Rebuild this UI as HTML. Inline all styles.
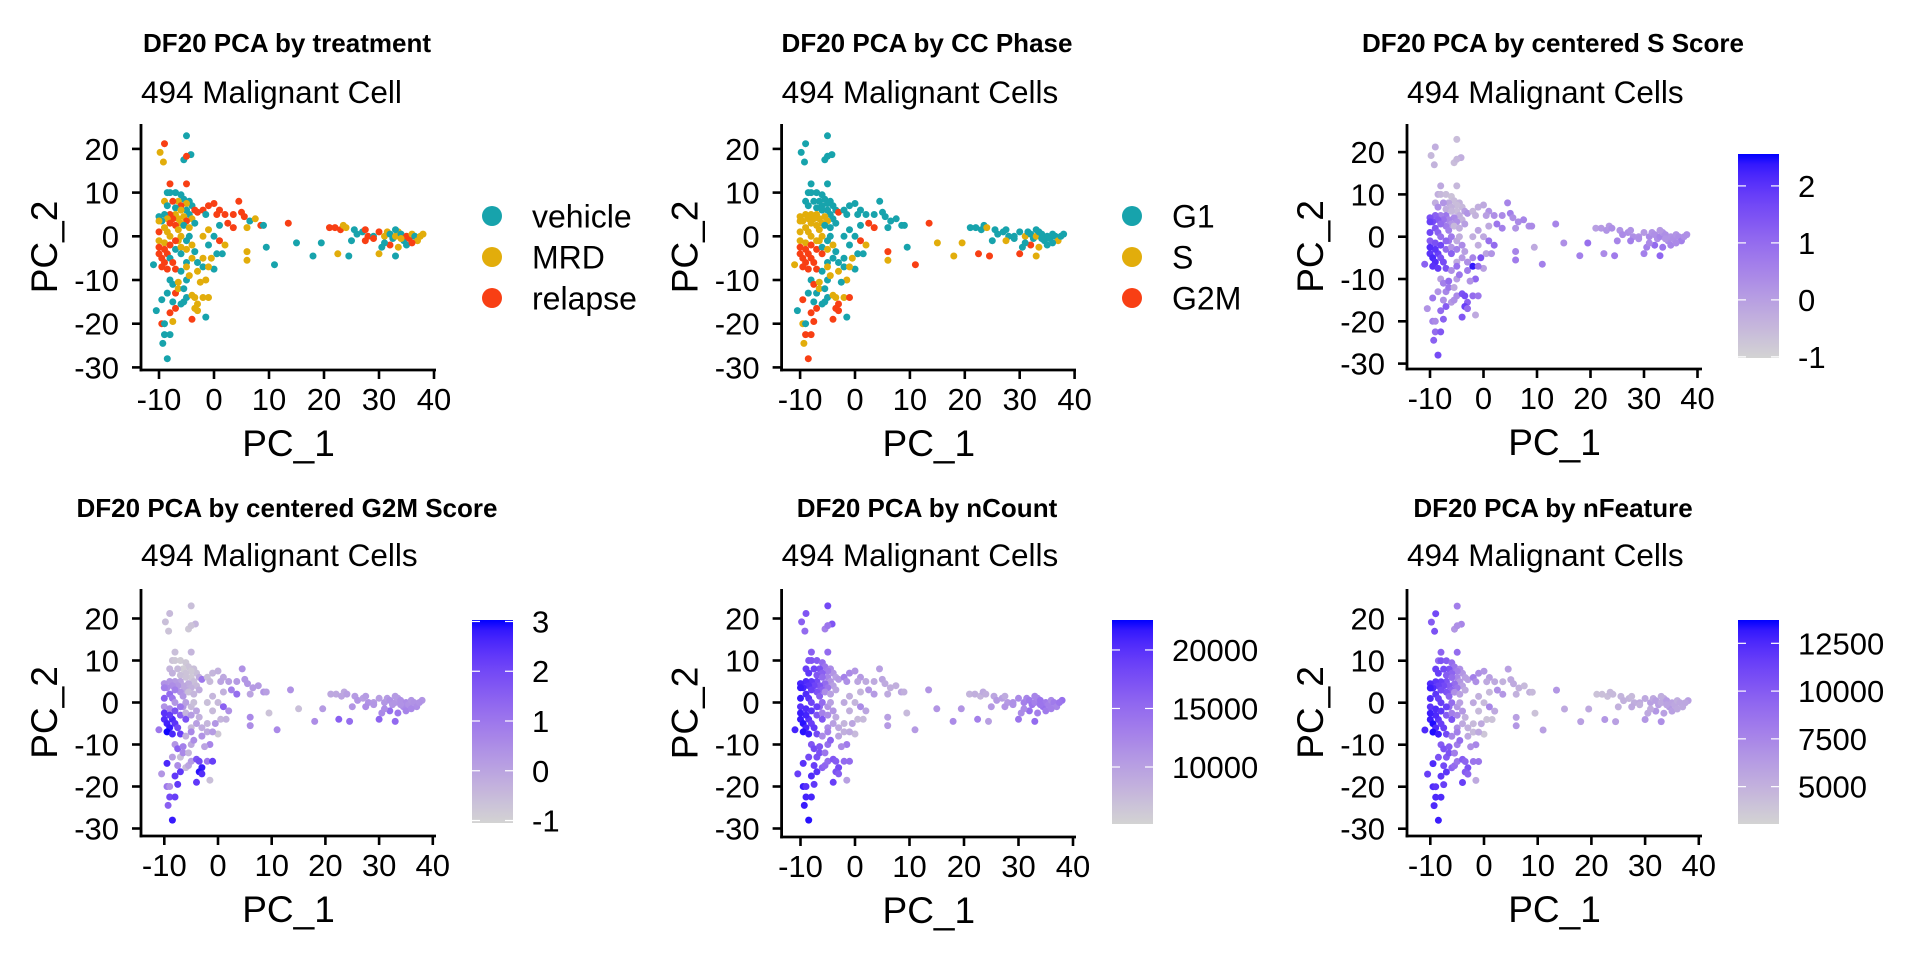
<!DOCTYPE html>
<html><head><meta charset="utf-8">
<style>
html,body{margin:0;padding:0;background:#fff;}
svg{display:block;font-family:"Liberation Sans",Arial,sans-serif;}
</style></head>
<body>
<svg id="fig" width="1920" height="960" viewBox="0 0 1920 960" xmlns="http://www.w3.org/2000/svg">
<defs id="defs"></defs>
</svg>
<script>
// ---------- data ----------
const treatmentCategories = ['vehicle','MRD','relapse'];
const treatmentColors = ['#17A3AC','#E2AD0B','#F83F14'];
const phaseCategories = ['G1','S','G2M'];
const phaseColors = ['#17A3AC','#E2AD0B','#F83F14'];
const xTicks = [-10,0,10,20,30,40];
const yTicks = [-30,-20,-10,0,10,20];
const sTicks = [-1,0,1,2];
const g2mTicks = [-1,0,1,2,3];
const nCountTicks = [10000,15000,20000];
const nFeatureTicks = [5000,7500,10000,12500];
const sDomain = [-1.02,2.56];
const g2mDomain = [-1.05,3.03];
const nCountDomain = [5130,22560];
const nFeatureDomain = [3045,13720];

const pc1 = [
 -9,-9.8,-9.2,-5,-4.2,-5.5,-5,-8,-5,-8.5,
 -8,-7,-6,-5.5,-4.5,-6.5,-7.5,-9,-4,-5, -6,-7,-8.5,-3.5,-5,-6,-7,-8,-9,-10, -4.5,-3,-5.5,-6.5,-7.5,-8.5,-9.5,-10,-4,-5, -6,-7,-8,-9,-10,-5.5,-4.5,-3.5,-6.5,-8.5,
 -11,-10,-9.5,-9,-8.5,-8,-9.5,-8.5,-7.5,-10, -9,-8,-7,-6.5,-6,-5,-4.5,-5,-4,-3.5, -4,-5,-6,-3,-2,-7,-6,-5,-3,-2, -9,-8,-7,-6,-10,
 -10.5,-9.5,-9.5,-9,-9,-9.3,-8.5,-8,-8,-7.5, -7.5,-8.5,-7,-8,-7.5,-6.5,-7,-6.5,-6,-5.5, -5,-5.5,-5,-4.5,-4,-3.5,-3,-3.5,-4,-3, -2,-1.5,-1,-1.5,-2.5,
 -2,-1,0,1,-1.5,0.5,2,3.5,4.5,5, 5.5,6.5,7.5,1,2.5,3.5,6,8.5,9,-1, -2,0,1,2,-1,0.5,-0.5,0,-1,1.5, 6,6,9.5,11,13.5,
 15,18,19.5,22.5,24.5,25,30,33,21,22, 23,23.5,24,25.5,26,27,27.5,28,27.5,29, 30,31,31.5,32,32.5,33,33.5,34,34.5,35, 35.5,36,36.5,37,38,30.5,32,33.5,35,34, 31,29,33,36,37.5
];
const pc2 = [
 21.2,19.2,17,23,18.7,17.5,18.3,12,12,10,
 10,10,9.5,8.5,8,8,8,8,7,7.5, 7,6.5,7,6,6,6,5,5,5,4.5, 5,5.5,4.5,4,4,4,3.5,3.5,4,3.5, 3,2.5,3,2,1,2.5,2,3,1.5,1,
 -6.5,-4,-5,-6,-4,-5,-7,-7.5,-6,-1, -1.5,-2,-3,-1,-2.5,-1,0,-3,-2,-3.5, -5,-6,-4,-6,-5,-7.5,-8,-7,-8,-7, -3,0,-1,0,-2.5,
 -17,-14.5,-20,-20,-22.5,-24.5,-28,-22.5,-17.5,-19.5, -15,-13,-13,-10,-11,-10.5,-16.5,-12,-15.5,-15, -14,-12,-10,-9,-13.5,-14,-15.5,-16.5,-19,-17, -14,-18.5,-14,-10,-10.5,
 6,7,7.5,6,5,5,5,5,8,5.5, 4.5,3.5,4,2.5,3,2,2,2.5,2.5,1.5, 0,0,-1,-2,-2,-4,-5,-7.5,-7,-4, -3.5,-5.5,-2.5,-6.5,3,
 -1.5,-4.5,-1.5,-4,-4.5,-1,-4,-4.5,2,2, 1.5,2.5,2,1.5,0.5,1,1.5,0,-1,0, 1,0,1,0.5,-0.5,0,1,0.5,-1,0, -0.5,0.5,0,-1,0.5,-2.5,-2,-2.5,-2,-0.5, -1.5,-0.5,1.5,-1.5,0
];
const treatment = [
 2,1,1,0,0,0,2,2,2,0,
 0,0,0,0,0,1,2,1,0,1, 2,0,0,2,0,1,1,2,0,0, 0,2,1,1,2,1,0,1,1,2, 1,2,2,1,2,0,1,0,1,1,
 0,2,2,2,2,0,2,2,2,1, 1,2,0,1,1,0,0,1,1,0, 1,0,0,0,1,2,0,1,1,0, 2,1,2,1,2,
 0,0,2,0,0,0,0,0,2,1, 0,0,2,0,0,1,2,1,0,0, 0,0,0,1,1,1,1,1,2,1, 1,0,1,1,1,
 2,2,2,2,0,2,2,2,2,2, 2,0,1,0,2,2,1,2,0,1, 1,0,2,1,0,0,1,0,1,0, 1,1,0,0,2,
 0,0,0,1,0,0,1,0,2,2, 2,1,1,0,0,0,2,2,2,0, 2,1,1,0,0,1,1,0,0,2, 2,1,0,1,1,0,2,1,0,1, 0,2,0,2,1
];
const phase = [
 0,0,0,0,0,0,0,0,0,0,
 0,0,0,0,0,0,0,0,0,0, 0,0,0,0,0,0,1,1,1,1, 0,2,1,1,1,1,1,1,0,1, 1,1,1,1,1,0,0,0,1,1,
 1,2,2,2,2,2,2,2,2,1, 1,2,2,1,0,0,0,1,1,0, 0,0,2,0,0,2,0,1,1,0, 2,1,1,1,2,
 0,2,1,0,2,1,2,2,2,2, 0,0,0,0,2,1,2,1,0,0, 0,0,0,1,1,1,2,2,2,2, 1,0,2,1,0,
 0,0,0,0,0,0,0,0,0,0, 0,0,0,0,2,2,0,0,0,0, 0,0,2,1,0,0,1,0,1,0, 2,1,0,2,2,
 1,1,1,2,2,0,2,1,0,0, 0,0,1,0,0,0,0,0,1,0, 0,1,0,0,0,1,0,0,0,0, 0,0,0,1,0,0,2,1,0,0, 0,0,0,0,0
];
const sScore = [
 -0.3,-0.5,-0.4,-0.6,-0.3,-0.6,-0.5,-0.2,-0.5,-0.3,
 -0.5,-0.6,-0.7,-0.6,-0.4,-0.2,0.2,-0.3,-0.5,-0.6, -0.4,-0.3,0.3,0.0,-0.6,-0.5,0.8,0.6,1.2,1.5, -0.3,0.2,0.4,0.5,0.9,1.3,1.6,1.8,-0.4,0.3, 0.2,0.7,1.0,1.4,1.7,-0.5,-0.3,0.0,0.6,1.2,
 1.2,2.0,2.2,2.1,1.8,1.5,2.0,1.9,1.6,1.3, 1.5,1.7,1.0,0.8,0.2,-0.2,-0.3,0.6,0.4,0.0, 0.1,-0.2,1.2,0.3,0.5,1.5,0.3,0.9,0.7,2.4, 2.0,0.9,1.1,0.7,2.1,
 0.2,0.8,0.6,0.4,1.0,1.2,1.6,1.4,1.0,1.2, 0.3,0.2,0.5,0.0,0.6,1.0,1.3,0.8,0.1,0.3, 0.4,-0.2,0.0,0.8,1.5,1.6,1.2,1.8,1.4,1.0, 1.0,-0.2,0.8,1.1,0.2,
 -0.5,-0.3,-0.2,0.2,-0.4,0.0,0.3,0.4,0.5,0.6, 0.3,0.4,0.5,-0.2,0.8,0.6,0.2,0.3,0.4,-0.1, -0.3,-0.2,0.9,1.0,-0.3,-0.1,1.5,0.0,0.9,0.2, 0.5,0.7,-0.2,0.6,0.5,
 0.3,0.6,0.9,0.4,0.7,0.5,0.6,1.1,0.0,0.1, 0.2,0.1,0.3,0.2,0.4,0.3,0.2,0.3,0.6,0.2, 0.1,0.4,0.2,0.3,0.3,0.5,0.2,0.3,0.4,0.2, 0.3,0.2,0.3,0.6,0.3,0.6,1.0,0.8,0.5,0.2, 0.4,0.3,0.1,0.4,0.3
];
const g2mScore = [
 -0.5,-0.6,-0.7,-0.6,-0.4,-0.8,-0.7,-0.6,-0.4,-0.7,
 -0.8,-0.9,-0.8,-0.7,-0.6,-0.9,-0.5,-0.4,-0.6,-0.8, -0.7,-0.6,-0.3,-0.2,-0.8,-0.7,0.0,0.2,0.3,0.4, -0.6,1.0,-0.2,-0.1,0.3,0.5,0.6,0.8,-0.5,-0.3, -0.1,0.4,0.8,1.2,1.5,-0.6,-0.4,-0.2,0.3,1.0,
 1.0,2.5,2.7,2.8,2.6,2.4,3.0,2.6,2.0,0.4, 0.6,1.8,1.5,0.3,-0.4,-0.5,-0.6,0.2,0.0,-0.3, 0.1,-0.5,1.8,-0.2,-0.4,2.2,-0.3,0.6,0.4,-0.1, 2.3,0.3,1.0,0.1,2.4,
 0.3,2.6,1.0,0.4,2.0,1.5,2.8,2.2,2.3,2.3, 0.5,0.1,-0.6,0.3,1.5,0.8,2.3,0.6,-0.5,0.0, 0.2,-0.4,-0.1,0.5,1.8,2.0,2.8,2.9,2.3,2.5, 1.0,-0.6,2.2,0.7,0.0,
 -0.6,-0.4,-0.3,-0.1,-0.5,0.0,0.1,0.2,0.4,0.3, 0.3,0.2,0.2,-0.3,0.8,1.2,0.0,0.3,0.1,-0.4, -0.6,-0.5,1.5,0.4,-0.5,-0.4,0.3,-0.8,0.2,-0.3, 0.6,0.5,-0.7,0.6,0.4,
 -0.6,0.5,0.2,1.5,1.2,0.3,1.4,1.3,-0.1,-0.1, 0.0,-0.1,0.1,0.2,0.3,0.1,0.2,0.4,0.5,0.2, 0.1,0.3,0.2,0.4,0.3,0.3,0.2,0.4,0.6,0.5, 0.4,0.3,0.4,0.5,0.3,0.6,1.2,1.0,0.7,0.4, 0.5,0.3,0.2,0.6,0.4
];
const nCount = [
 17000,16000,15000,18000,17000,13000,14000,16000,15000,17000,
 17000,16500,15000,14000,12000,17500,18500,19000,11000,13500, 16000,17000,19500,10000,12500,15000,18000,19500,20500,21000, 11000,10500,15000,17000,18500,20000,21000,21500,10000,14000, 16000,17500,19000,20500,21500,12000,10000,9500,16000,20000,
 21000,21500,22000,21000,20000,19000,22000,21500,19500,20000, 20500,20000,17000,15000,13000,11000,10000,12000,11000,9000, 10000,12000,17000,9000,8000,18000,12000,13000,9500,8500, 21000,18500,19000,15000,21500,
 19000,20000,21500,20000,21000,21500,22000,21000,20500,19500, 19000,18000,17500,17000,18000,17000,20000,17500,16000,15500, 15000,14000,14500,16000,17000,16500,18000,17500,19000,16500, 15000,10000,15000,13500,12000,
 13000,12000,11000,10500,11500,9500,9000,9000,10000,9500, 9000,8500,8500,8000,11000,10500,9000,9500,8500,8500, 9000,8000,12000,9500,8500,7500,9500,7500,9000,7500, 10000,10500,7500,10500,11000,
 11000,12000,11000,13000,10000,10500,14000,15000,8000,8500, 8000,9000,8500,9500,10500,10000,9000,10500,11000,11500, 12000,13000,12500,13500,14000,13000,12500,14000,14500,13500, 13000,12000,13500,12500,14500,12000,14500,13000,13500,14000, 12000,11500,12500,13000,14000
];
const nFeature = [
 11000,10000,10500,8000,7500,6500,7000,9500,9000,9000,
 10500,10000,9000,8500,7000,10500,11000,11500,6500,8000, 9500,10000,11500,6000,7500,9000,10500,11500,12000,12500, 6500,6000,9000,10000,11000,11500,12500,13000,6000,8500, 9500,10500,11000,12000,12500,7000,6000,5500,9500,11500,
 12500,13000,13500,12500,12000,11500,13500,13000,11500,12000, 12500,12000,10000,9000,8000,6500,6000,7500,6500,5000, 5500,7000,10500,5000,4500,11000,7500,8000,5500,4500, 12500,11500,11500,9000,13000,
 11500,12500,12500,12000,12500,12500,13000,12500,12000,11500, 11000,10500,10000,10000,10500,10000,12000,10500,9500,9000, 8500,8000,8000,9000,10000,9500,10500,10000,11500,9500, 8500,5500,8500,7500,7000,
 8000,7000,6500,6000,7000,5500,5500,5000,6000,5500, 5500,5000,4500,4500,7000,6500,5000,5000,4500,5000, 5500,4500,7500,5500,4500,4000,5500,3800,5500,4000, 6000,6500,4000,6000,6500,
 5500,6000,5500,6500,6000,5000,6500,7000,4000,4200, 4200,4500,4500,4800,5000,4800,4500,5200,5500,5500, 5500,6000,5500,6000,6000,5500,5500,6200,6300,5800, 5600,5200,5600,5500,6000,5500,6500,6000,6000,5800, 5300,5000,5200,5500,5600
];

// ---------- colour helpers (Lab interpolation lightgrey -> blue) ----------
function toLin(c){c/=255;return c<=0.04045?c/12.92:Math.pow((c+0.055)/1.055,2.4);}
function fromLin(c){c=c<=0.0031308?12.92*c:1.055*Math.pow(c,1/2.4)-0.055;return Math.max(0,Math.min(255,Math.round(c*255)));}
function rgb2lab(r,g,b){
  r=toLin(r);g=toLin(g);b=toLin(b);
  let x=(0.4124*r+0.3576*g+0.1805*b)/0.95047,y=0.2126*r+0.7152*g+0.0722*b,z=(0.0193*r+0.1192*g+0.9505*b)/1.08883;
  const f=t=>t>0.008856?Math.cbrt(t):7.787*t+16/116;
  const fx=f(x),fy=f(y),fz=f(z);
  return [116*fy-16,500*(fx-fy),200*(fy-fz)];
}
function lab2rgb(L,a,bb){
  const fy=(L+16)/116,fx=fy+a/500,fz=fy-bb/200;
  const fi=t=>t*t*t>0.008856?t*t*t:(t-16/116)/7.787;
  const x=fi(fx)*0.95047,y=fi(fy),z=fi(fz)*1.08883;
  const r=3.2406*x-1.5372*y-0.4986*z,g=-0.9689*x+1.8758*y+0.0415*z,b=0.0557*x-0.2040*y+1.0570*z;
  return 'rgb('+fromLin(r)+','+fromLin(g)+','+fromLin(b)+')';
}
const LOW=rgb2lab(211,211,211),HIGH=rgb2lab(0,0,255);
function gradColor(t){t=Math.max(0,Math.min(1,t));return lab2rgb(LOW[0]+(HIGH[0]-LOW[0])*t,LOW[1]+(HIGH[1]-LOW[1])*t,LOW[2]+(HIGH[2]-LOW[2])*t);}

// ---------- drawing ----------
const NS='http://www.w3.org/2000/svg';
const svg=document.getElementById('fig');
const defs=document.getElementById('defs');
function el(tag,parent){const e=document.createElementNS(NS,tag);(parent||svg).appendChild(e);return e;}
function txt(parent,s,x,y,size,anchor,weight){
  const t=el('text',parent);t.setAttribute('x',x);t.setAttribute('y',y);
  t.setAttribute('font-size',size);t.setAttribute('text-anchor',anchor||'start');
  if(weight)t.setAttribute('font-weight',weight);t.setAttribute('fill','#000');t.textContent=s;return t;
}

const TICK_FS=31, LEG_FS=32;

const panels=[
 {key:'treatment',title:'DF20 PCA by treatment',sub:'494 Malignant Cell',tcx:287,ax:141,x0:214,xs:5.5,xEnd:436,y0:236.3,ys:4.37,top:124,bottom:370,tY:52,sY:103,kind:'cat',vals:treatment,cats:treatmentCategories,cols:treatmentColors},
 {key:'phase',title:'DF20 PCA by CC Phase',sub:'494 Malignant Cells',tcx:927,ax:781.6,x0:855,xs:5.49,xEnd:1076,y0:236.3,ys:4.37,top:124,bottom:370,tY:52,sY:103,kind:'cat',vals:phase,cats:phaseCategories,cols:phaseColors},
 {key:'s-score',title:'DF20 PCA by centered S Score',sub:'494 Malignant Cells',tcx:1553,ax:1407,x0:1483.5,xs:5.35,xEnd:1702,y0:236.7,ys:4.23,top:124,bottom:369,tY:52,sY:103,kind:'num',vals:sScore,dom:sDomain,ticks:sTicks,barTop:154,barBot:358},
 {key:'g2m-score',title:'DF20 PCA by centered G2M Score',sub:'494 Malignant Cells',tcx:287,ax:141,x0:218,xs:5.37,xEnd:436,y0:702.5,ys:4.2,top:589,bottom:836,tY:517,sY:566,kind:'num',vals:g2mScore,dom:g2mDomain,ticks:g2mTicks,barTop:620,barBot:823},
 {key:'ncount',title:'DF20 PCA by nCount',sub:'494 Malignant Cells',tcx:927,ax:781.6,x0:855,xs:5.45,xEnd:1076,y0:702.5,ys:4.2,top:589,bottom:837,tY:517,sY:566,kind:'num',vals:nCount,dom:nCountDomain,ticks:nCountTicks,barTop:620,barBot:824},
 {key:'nfeature',title:'DF20 PCA by nFeature',sub:'494 Malignant Cells',tcx:1553,ax:1407,x0:1484,xs:5.37,xEnd:1702,y0:702.7,ys:4.2,top:589,bottom:836,tY:517,sY:566,kind:'num',vals:nFeature,dom:nFeatureDomain,ticks:nFeatureTicks,barTop:620,barBot:824}
];

panels.forEach(p=>{
  const g=el('g');
  
  
  const xS=v=>p.x0+v*p.xs, yS=v=>p.y0-v*p.ys;

  const t=txt(g,p.title,p.tcx,p.tY,26,'middle','bold');
  
  
  const st=txt(g,p.sub,p.ax,p.sY,31.5,'start');
  
  

  // points
  const pts=el('g',g);
  
  
  for(let i=0;i<pc1.length;i++){
    const c=el('circle',pts);
    
    
    c.setAttribute('cx',xS(pc1[i]).toFixed(1));
    c.setAttribute('cy',yS(pc2[i]).toFixed(1));
    c.setAttribute('r',3.5);
    let col;
    if(p.kind==='cat') col=p.cols[p.vals[i]];
    else col=gradColor((p.vals[i]-p.dom[0])/(p.dom[1]-p.dom[0]));
    c.setAttribute('fill',col);
  }

  // axes
  const axg=el('g',g);
  
  
  const yl=el('line',axg);
  
  
  yl.setAttribute('x1',p.ax);yl.setAttribute('x2',p.ax);yl.setAttribute('y1',p.top);yl.setAttribute('y2',p.bottom+1.4);
  yl.setAttribute('stroke','#000');yl.setAttribute('stroke-width',2.8);
  const xl=el('line',axg);
  
  
  xl.setAttribute('x1',p.ax-1.4);xl.setAttribute('x2',p.xEnd);xl.setAttribute('y1',p.bottom);xl.setAttribute('y2',p.bottom);
  xl.setAttribute('stroke','#000');xl.setAttribute('stroke-width',2.8);
  xTicks.forEach(v=>{
    const tk=el('line',axg);
    
    
    tk.setAttribute('x1',xS(v));tk.setAttribute('x2',xS(v));tk.setAttribute('y1',p.bottom);tk.setAttribute('y2',p.bottom+9);
    tk.setAttribute('stroke','#000');tk.setAttribute('stroke-width',2.6);
    const lb=txt(axg,String(v),xS(v),p.bottom+40,TICK_FS,'middle');
    
    
  });
  yTicks.forEach(v=>{
    const tk=el('line',axg);
    
    
    tk.setAttribute('x1',p.ax-9);tk.setAttribute('x2',p.ax);tk.setAttribute('y1',yS(v));tk.setAttribute('y2',yS(v));
    tk.setAttribute('stroke','#000');tk.setAttribute('stroke-width',2.6);
    const lb=txt(axg,String(v),p.ax-22,yS(v)+11,TICK_FS,'end');
    
    
  });
  const xt=txt(axg,'PC_1',(p.ax+p.xEnd)/2,p.bottom+86,37,'middle');
  
  
  const ycx=p.ax-84, ycy=(p.top+p.bottom)/2;
  const yt=txt(axg,'PC_2',ycx,ycy,37,'middle');
  yt.setAttribute('transform','rotate(-90 '+ycx+' '+ycy+')');
  
  

  // legends
  if(p.kind==='cat'){
    const lg=el('g',g);
    
    
    const ly=[216,257,298];
    p.cats.forEach((name,k)=>{
      const it=el('g',lg);
      
      
      const c=el('circle',it);
      c.setAttribute('cx',p.xEnd+56);c.setAttribute('cy',ly[k]);c.setAttribute('r',10);c.setAttribute('fill',p.cols[k]);
      txt(it,name,p.xEnd+96,ly[k]+11.5,LEG_FS,'start');
    });
  } else {
    const lg=el('g',g);
    
    
    const gid='grad-'+p.key;
    const lgd=el('linearGradient',defs);
    lgd.setAttribute('id',gid);lgd.setAttribute('x1',0);lgd.setAttribute('x2',0);lgd.setAttribute('y1',1);lgd.setAttribute('y2',0);
    for(let s=0;s<=20;s++){
      const stp=el('stop',lgd);stp.setAttribute('offset',(s/20));stp.setAttribute('stop-color',gradColor(s/20));
    }
    const bx=p.xEnd+36,bw=41;
    const r=el('rect',lg);
    
    
    r.setAttribute('x',bx);r.setAttribute('y',p.barTop);r.setAttribute('width',bw);r.setAttribute('height',p.barBot-p.barTop);
    r.setAttribute('fill','url(#'+gid+')');
    const bS=v=>p.barBot-(v-p.dom[0])/(p.dom[1]-p.dom[0])*(p.barBot-p.barTop);
    p.ticks.forEach(v=>{
      const y=bS(v);
      [[bx,bx+8],[bx+bw-8,bx+bw]].forEach(seg=>{
        const tk=el('line',lg);
        
        
        tk.setAttribute('x1',seg[0]);tk.setAttribute('x2',seg[1]);tk.setAttribute('y1',y);tk.setAttribute('y2',y);
        tk.setAttribute('stroke','#fff');tk.setAttribute('stroke-width',1.2);
      });
      const lb=txt(lg,String(v),bx+bw+19,y+11,TICK_FS,'start');
      
      
    });
  }
});
</script>
</body></html>
